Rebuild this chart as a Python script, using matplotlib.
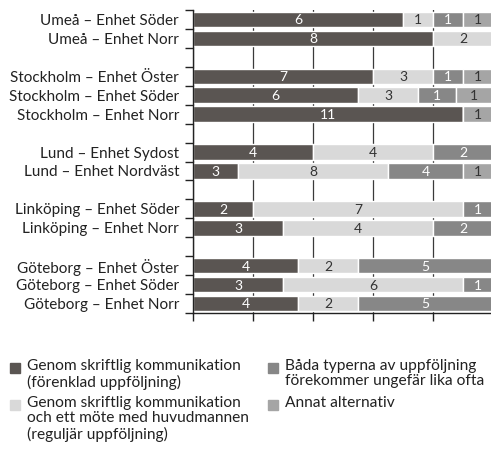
import matplotlib
matplotlib.use("Agg")
import matplotlib.pyplot as plt
from matplotlib.patches import Rectangle

plt.rcParams['font.family'] = ['Lato', 'DejaVu Sans']

# ---- data ----
categories = [
    "Umeå – Enhet Söder", "Umeå – Enhet Norr",
    "Stockholm – Enhet Öster", "Stockholm – Enhet Söder", "Stockholm – Enhet Norr",
    "Lund – Enhet Sydost", "Lund – Enhet Nordväst",
    "Linköping – Enhet Söder", "Linköping – Enhet Norr",
    "Göteborg – Enhet Öster", "Göteborg – Enhet Söder", "Göteborg – Enhet Norr",
]
group_sizes = [2, 3, 2, 2, 3]

series_names = [
    "Genom skriftlig kommunikation\n(förenklad uppföljning)",
    "Genom skriftlig kommunikation\noch ett möte med huvudmannen\n(reguljär uppföljning)",
    "Båda typerna av uppföljning\nförekommer ungefär lika ofta",
    "Annat alternativ",
]
# counts shown as labels
counts_forenklad = [6, 8, 7, 6, 11, 4, 3, 2, 3, 4, 3, 4]
counts_reguljar  = [1, 2, 3, 3, 0, 4, 8, 7, 4, 2, 6, 2]
counts_bada      = [1, 0, 1, 1, 0, 2, 4, 1, 2, 5, 1, 5]
counts_annat     = [1, 0, 1, 1, 1, 0, 1, 0, 0, 0, 0, 0]
# shares (%) giving bar lengths
share_forenklad = [70, 80, 60, 55, 90, 40, 15, 20, 30, 35, 30, 35]
share_reguljar  = [10, 20, 20, 20, 0, 40, 50, 70, 50, 20, 60, 20]
share_bada      = [10, 0, 10, 12.5, 0, 20, 25, 10, 20, 45, 10, 45]
share_annat     = [10, 0, 10, 12.5, 10, 0, 10, 0, 0, 0, 0, 0]

colors = ["#5a5552", "#d9d9d9", "#878787", "#a5a5a5"]
text_colors = ["white", "#333333", "white", "#333333"]

counts = [counts_forenklad, counts_reguljar, counts_bada, counts_annat]
shares = [share_forenklad, share_reguljar, share_bada, share_annat]

# positions with an empty slot between groups
positions = []
pos = 0
for gi, gs in enumerate(group_sizes):
    for _ in range(gs):
        positions.append(pos)
        pos += 1
    pos += 1
nslots = pos - 1  # 16

W, H = 491, 449
fig = plt.figure(figsize=(W / 100, H / 100), dpi=100)
ax = fig.add_axes([193 / W, 1 - 313 / H, 300 / W, 303 / H])

left = [0.0] * len(categories)
for s in range(4):
    ax.barh(positions, shares[s], left=left, height=0.82, color=colors[s],
            edgecolor="white", linewidth=1.0, zorder=2)
    for i, (c, w) in enumerate(zip(counts[s], shares[s])):
        if c > 0 and w > 0:
            ax.text(left[i] + w / 2, positions[i] + 0.05, str(c), ha="center", va="center",
                    fontsize=10, color=text_colors[s], zorder=3)
    left = [l + w for l, w in zip(left, shares[s])]

ax.set_xlim(0, 100)
ax.set_ylim(nslots - 0.5, -0.5)
ax.set_xticks([0, 20, 40, 60, 80, 100])
ax.set_xticklabels([])
ax.xaxis.grid(True, color="#3a3a3a", linewidth=0.9, zorder=0)
ax.set_axisbelow(True)
ax.set_yticks([p - 0.5 for p in range(nslots + 1)])
ax.set_yticklabels([])
ax.set_yticks(positions, minor=True)
ax.set_yticklabels(categories, minor=True, fontsize=11, color="#222222")
ax.tick_params(axis="y", which="minor", length=0, pad=10)
ax.tick_params(axis="y", which="major", length=6, width=1, color="#222222")
ax.tick_params(axis="x", length=6, width=1, color="#222222", direction="out")
for sp in ["top", "right"]:
    ax.spines[sp].set_visible(False)
for sp in ["left", "bottom"]:
    ax.spines[sp].set_color("#222222")
    ax.spines[sp].set_linewidth(1)

# legend (manual)
legend_items = [
    (0, 10, 363, 27, 359),
    (1, 10, 400, 27, 396),
    (2, 268, 363, 285, 359),
    (3, 268, 400, 285, 396),
]
for s, sx, sy, tx, ty in legend_items:
    fig.patches.append(Rectangle((sx / W, 1 - (sy + 10) / H), 10 / W, 10 / H,
                                 transform=fig.transFigure, color=colors[s], figure=fig))
    fig.text(tx / W, 1 - ty / H, series_names[s], ha="left", va="top",
             fontsize=11.2, color="#222222", linespacing=1.12)

fig.savefig("out.png", dpi=100)
